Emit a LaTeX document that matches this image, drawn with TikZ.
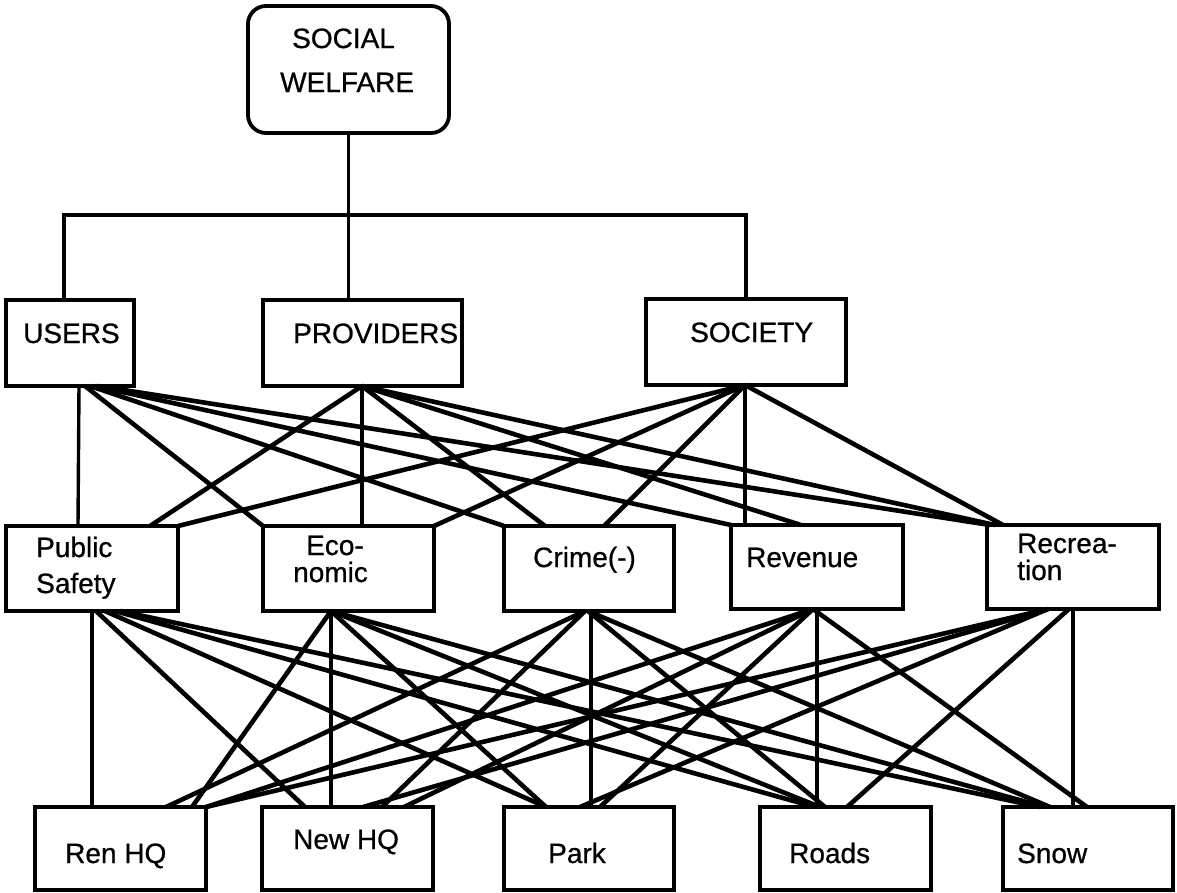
\documentclass[tikz,border=0pt]{standalone}
\usepackage{fontspec}
\setmainfont[FakeBold=0.7]{Liberation Sans}
\begin{document}
\begin{tikzpicture}[x=1pt,y=-1pt,
  box/.style={draw, line width=3.8pt, inner sep=0pt, outer sep=0pt},
  conn/.style={line width=4.6pt},
  vconn/.style={line width=3.4pt},
  lbl/.style={anchor=base west, inner sep=0pt, font=\fontsize{28}{32}\selectfont}]
\useasboundingbox (0,0) rectangle (1177,892);
\fill[white] (0,0) rectangle (1177,892);

% boxes
\node[box, minimum width=201pt, minimum height=127pt, rounded corners=18pt] (sw) at (348.5,69.5) {};
\node[box, minimum width=128pt, minimum height=86pt] (users) at (70,343) {};
\node[box, minimum width=199pt, minimum height=86pt] (prov) at (362.5,343) {};
\node[box, minimum width=200pt, minimum height=86pt] (soc) at (746,342) {};
\node[box, minimum width=172pt, minimum height=85pt] (ps) at (92,568.5) {};
\node[box, minimum width=171pt, minimum height=85pt] (eco) at (348.5,568.5) {};
\node[box, minimum width=170pt, minimum height=85pt] (crime) at (589,568.5) {};
\node[box, minimum width=172pt, minimum height=84pt] (rev) at (817,567) {};
\node[box, minimum width=172pt, minimum height=84pt] (rec) at (1073,567) {};
\node[box, minimum width=171pt, minimum height=83pt] (ren) at (120.5,848.5) {};
\node[box, minimum width=171pt, minimum height=83pt] (new) at (347.5,848.5) {};
\node[box, minimum width=170pt, minimum height=83pt] (park) at (589,848.5) {};
\node[box, minimum width=171pt, minimum height=83pt] (roads) at (845.5,848.5) {};
\node[box, minimum width=170pt, minimum height=83pt] (snow) at (1088,848.5) {};

% labels
\node[lbl] (sw-t1) at (292,48) {SOCIAL};
\node[lbl] (sw-t2) at (280,92) {WELFARE};
\node[lbl] (users-t) at (23,343) {USERS};
\node[lbl] (prov-t) at (293,343) {PROVIDERS};
\node[lbl] (soc-t) at (690,342) {SOCIETY};
\node[lbl] (ps-t1) at (36,557) {Public};
\node[lbl] (ps-t2) at (36,593) {Safety};
\node[lbl] (eco-t1) at (306,555) {Eco-};
\node[lbl] (eco-t2) at (293,582) {nomic};
\node[lbl] (crime-t) at (533,567) {Crime(-)};
\node[lbl] (rev-t) at (746,567) {Revenue};
\node[lbl] (rec-t1) at (1017,553) {Recrea-};
\node[lbl] (rec-t2) at (1017,580) {tion};
\node[lbl] (ren-t) at (65,863) {Ren HQ};
\node[lbl] (new-t) at (293,849) {New HQ};
\node[lbl] (park-t) at (548,863) {Park};
\node[lbl] (roads-t) at (789,863) {Roads};
\node[lbl] (snow-t) at (1017,863) {Snow};

% tree on top
\coordinate (j) at (348.5,215);
\draw[vconn] (sw.south) -- (j);
\draw[vconn] ([xshift=58pt]users.north west) |- (j) -| ([xshift=100pt]soc.north west);
\draw[vconn] ([xshift=85.5pt]prov.north west) -- (j);

% level 1 -> level 2 verticals
\draw[vconn] ([xshift=73pt]users.south west) -- ([xshift=72pt]ps.north west);
\draw[vconn] ([xshift=99pt]prov.south west) -- ([xshift=99pt]eco.north west);
\draw[vconn] ([xshift=99pt]soc.south west) -- ([xshift=14pt]rev.north west);

% level 1 -> level 2 diagonals
\foreach \s/\a/\d/\b in {
  users/79/eco/0, users/84/crime/0, users/89/rev/0, users/92/rec/3,
  prov/99/ps/144, prov/99/crime/41, prov/99/rev/70, prov/99/rec/8,
  soc/99/ps/172, soc/99/eco/171, soc/99/crime/100, soc/99/rec/16}
  \draw[conn] ([xshift=\a pt]\s.south west) -- ([xshift=\b pt]\d.north west);

% level 2 -> level 3 verticals
\draw[vconn] ([xshift=86pt]ps.south west) -- ([xshift=57pt]ren.north west);
\draw[vconn] ([xshift=68pt]eco.south west) -- ([xshift=69pt]new.north west);
\draw[vconn] ([xshift=87pt]crime.south west) -- ([xshift=87pt]park.north west);
\draw[vconn] ([xshift=86pt]rev.south west) -- ([xshift=57pt]roads.north west);
\draw[vconn] ([xshift=86pt]rec.south west) -- ([xshift=70pt]snow.north west);

% level 2 -> level 3 diagonals
\foreach \s/\a/\d/\b in {
  ps/90/new/43, ps/99/park/42, ps/109/roads/55, ps/114/snow/37,
  eco/68/ren/157, eco/68/park/42, eco/68/roads/60, eco/68/snow/42,
  crime/81/ren/131, crime/81/new/120, crime/84/roads/65, crime/84/snow/47,
  rev/82/ren/171, rev/82/new/142, rev/82/park/96, rev/82/snow/84,
  rec/61/ren/171, rec/61/new/101, rec/61/park/76, rec/82/roads/87}
  \draw[conn] ([xshift=\a pt]\s.south west) -- ([xshift=\b pt]\d.north west);
\end{tikzpicture}
\end{document}
